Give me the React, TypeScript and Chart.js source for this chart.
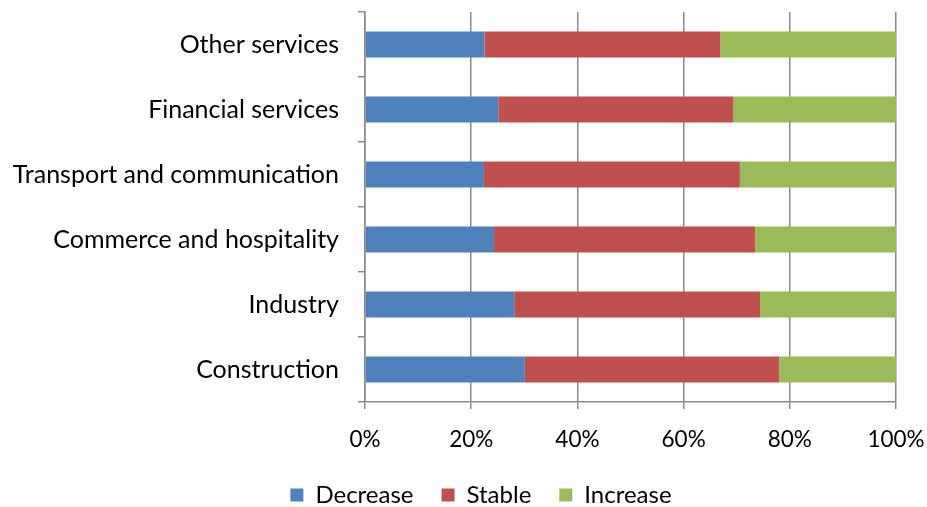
import React, { useEffect, useRef } from "react";
import { Chart, registerables } from "chart.js";

Chart.register(...registerables);

const categories = [
  "Other services",
  "Financial services",
  "Transport and communication",
  "Commerce and hospitality",
  "Industry",
  "Construction",
];
const decreaseValues = [22.5, 25.1, 22.4, 24.3, 28.1, 30.1];
const stableValues = [44.4, 44.2, 48.2, 49.2, 46.3, 47.9];
const increaseValues = [33.1, 30.7, 29.4, 26.5, 25.6, 22.0];
const xTicks = [0, 20, 40, 60, 80, 100];

const FONT = "Lato";
const AXIS_GRAY = "#8a8a8a";

const legendShift = {
  id: "legendShift",
  afterLayout(chart: any) {
    const lg = chart.legend;
    if (lg) {
      lg.left += 33;
      lg.right += 33;
    }
  },
};

export default function App() {
  const ref = useRef<HTMLCanvasElement | null>(null);
  useEffect(() => {
    if (!ref.current) return;
    const chart = new Chart(ref.current, {
      type: "bar",
      data: {
        labels: categories,
        datasets: [
          { label: "Decrease", data: decreaseValues, backgroundColor: "#4F81BD" },
          { label: "Stable", data: stableValues, backgroundColor: "#C0504D" },
          { label: "Increase", data: increaseValues, backgroundColor: "#9BBB59" },
        ],
      },
      plugins: [legendShift],
      options: {
        indexAxis: "y",
        animation: false,
        responsive: false,
        layout: { padding: { top: 12, right: 31, left: 0, bottom: -10 } },
        datasets: { bar: { barPercentage: 0.8, categoryPercentage: 0.5 } },
        scales: {
          x: {
            stacked: true,
            min: 0,
            max: 100,
            afterBuildTicks: (s: any) => {
              s.ticks = xTicks.map((v) => ({ value: v }));
            },
            afterFit: (s: any) => {
              s.height = 53;
              s.paddingLeft = 0;
              s.paddingRight = 0;
            },
            ticks: {
              callback: (v: any) => v + "%",
              color: "#000",
              font: { family: FONT, size: 22.5 },
              padding: 17,
              maxRotation: 0,
            },
            grid: { color: AXIS_GRAY, lineWidth: 1.5, tickLength: 7 },
            border: { color: AXIS_GRAY, width: 1.5 },
          },
          y: {
            stacked: true,
            afterFit: (s: any) => {
              s.width = 365;
              s.paddingTop = 0;
              s.paddingBottom = 0;
            },
            ticks: {
              color: "#000",
              font: { family: FONT, size: 25 },
              padding: 19,
            },
            grid: {
              offset: true,
              drawOnChartArea: false,
              color: AXIS_GRAY,
              lineWidth: 1.5,
              tickLength: 7,
            },
            border: { color: AXIS_GRAY, width: 1.5 },
          },
        },
        plugins: {
          legend: {
            position: "bottom",
            labels: {
              color: "#000",
              font: { family: FONT, size: 24 },
              boxWidth: 13,
              boxHeight: 13,
              padding: 28,
            },
          },
          tooltip: { enabled: false },
        },
      },
    });
    return () => chart.destroy();
  }, []);
  return (
    <div style={{ position: "fixed", left: 0, top: 0, width: 927, height: 507, background: "#fff" }}>
      <canvas ref={ref} width={927} height={507} />
    </div>
  );
}
